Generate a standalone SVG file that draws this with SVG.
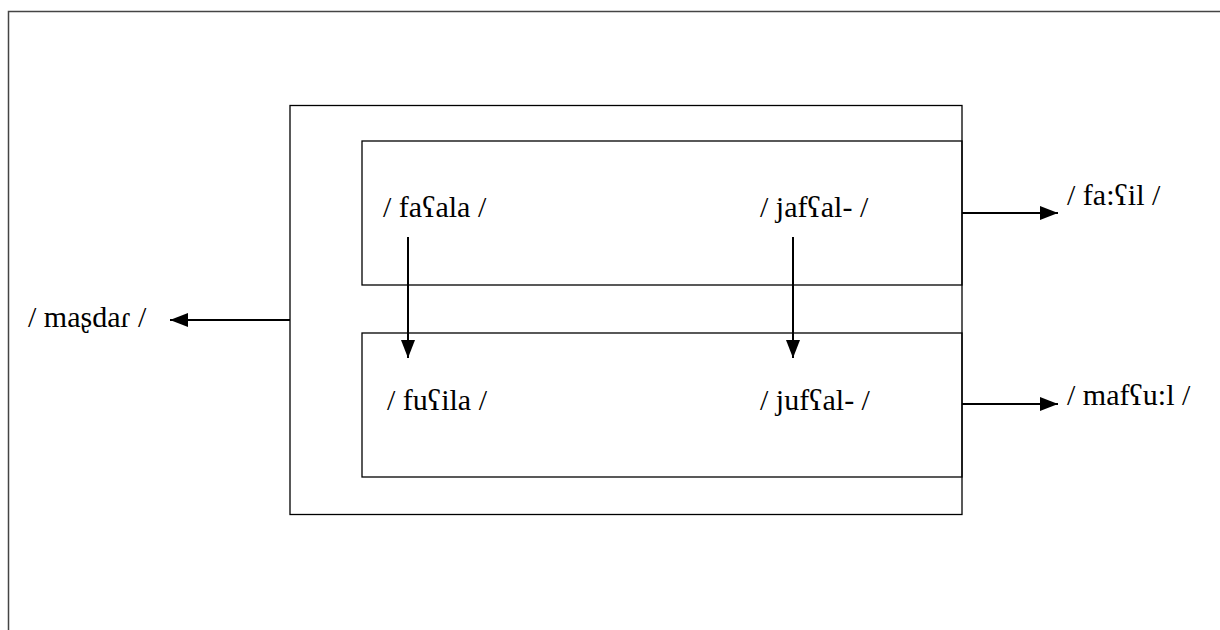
<svg xmlns="http://www.w3.org/2000/svg" width="1220" height="630" viewBox="0 0 1220 630">
<style>
.b{fill:none;stroke:#000;stroke-width:1.3}
.c{stroke:#000;stroke-width:2;fill:none}
text{font-family:"Times New Roman","Liberation Serif",serif;font-size:30px;fill:#000}
</style>
<defs>
<marker id="ahw" markerWidth="18" markerHeight="14" refX="18" refY="7" orient="auto" markerUnits="userSpaceOnUse" viewBox="0 0 18 14">
<path d="M0,0 L18,7 L0,14 Z" fill="#000"/>
</marker>
</defs>
<rect width="1220" height="630" fill="#fff"/>
<g id="frame"><path d="M8.5,630 V11.5 H1220" fill="none" stroke="#444" stroke-width="1.5"/></g>
<g id="outer"><rect class="b" x="290" y="105.5" width="672" height="409"/></g>
<g id="top-box"><rect class="b" x="362" y="141" width="600" height="144"/>
<text x="383" y="217">/ fa<tspan>ʕ</tspan>ala /</text>
<text x="760" y="217">/ jafʕal- /</text></g>
<g id="bottom-box"><rect class="b" x="362" y="333" width="600" height="144"/>
<text x="387" y="410">/ fuʕila /</text>
<text x="760" y="410">/ jufʕal- /</text></g>
<g id="masdar"><text x="28" y="327">/ maʂdaɾ  /</text></g>
<g id="fail"><text x="1067" y="205">/ fa:ʕil /</text></g>
<g id="mafool"><text x="1067" y="405">/ mafʕu:l /</text></g>
<g id="connectors">
<line class="c" x1="290" y1="320" x2="170" y2="320" marker-end="url(#ahw)"/>
<line class="c" x1="962" y1="213" x2="1058" y2="213" marker-end="url(#ahw)"/>
<line class="c" x1="962" y1="404" x2="1058" y2="404" marker-end="url(#ahw)"/>
<line class="c" x1="408" y1="237" x2="408" y2="358" marker-end="url(#ahw)"/>
<line class="c" x1="793" y1="237" x2="793" y2="358" marker-end="url(#ahw)"/>
</g>
</svg>
